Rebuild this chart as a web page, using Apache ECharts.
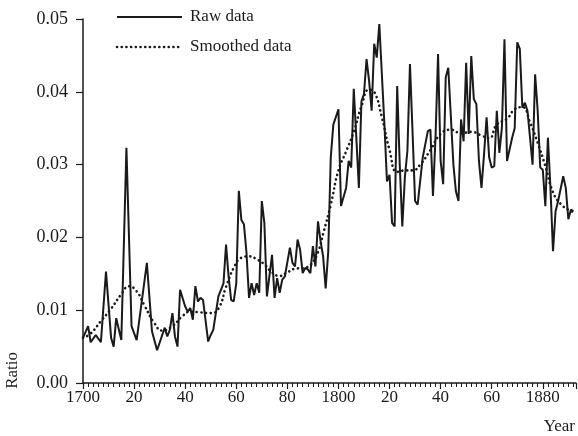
<!DOCTYPE html>
<html>
<head>
<meta charset="utf-8">
<script src="https://cdn.jsdelivr.net/npm/echarts@6/dist/echarts.min.js"></script>
<style>
html, body { margin: 0; padding: 0; background: #fff; }
#chart { width: 578px; height: 436px; }
</style>
</head>
<body>
<div id="chart"></div>
<script>
var rawYears = [1700, 1702, 1703, 1705, 1707, 1709, 1711, 1712, 1713, 1715, 1717, 1719, 1721, 1725, 1727, 1729,
    1732, 1733, 1734, 1735, 1736, 1737, 1738, 1740, 1741, 1742, 1743, 1744, 1745, 1746, 1747, 1749, 1750, 1751,
    1753, 1755, 1756, 1757, 1758, 1759, 1760, 1761, 1762, 1763, 1764, 1765, 1766, 1767, 1768, 1769, 1770, 1771,
    1772, 1774, 1775, 1776, 1777, 1778, 1779, 1781, 1782, 1783, 1784, 1785, 1786, 1787, 1788, 1789, 1790, 1791,
    1792, 1793, 1794, 1795, 1796, 1797, 1798, 1800, 1801, 1803, 1804, 1805, 1806, 1807, 1808, 1809, 1810, 1811,
    1812, 1813, 1814, 1815, 1816, 1818, 1819, 1820, 1821, 1822, 1823, 1824, 1825, 1826, 1827, 1828, 1829, 1830,
    1831, 1833, 1835, 1836, 1837, 1838, 1839, 1840, 1841, 1842, 1843, 1845, 1846, 1847, 1848, 1849, 1850, 1851,
    1852, 1853, 1854, 1855, 1856, 1857, 1858, 1859, 1860, 1861, 1862, 1863, 1864, 1865, 1866, 1868, 1869, 1870,
    1871, 1872, 1873, 1874, 1875, 1876, 1877, 1878, 1879, 1880, 1881, 1882, 1883, 1884, 1885, 1886, 1888, 1889,
    1890, 1891, 1892];
var rawValues = [0.0062, 0.0078, 0.0056, 0.0066, 0.0056, 0.0153, 0.0062, 0.0050, 0.0089, 0.0059, 0.0323, 0.0078,
    0.0059, 0.0165, 0.0071, 0.0045,
    0.0076, 0.0064, 0.0073, 0.0096, 0.0064, 0.0050, 0.0128, 0.0105, 0.0098, 0.0103, 0.0087, 0.0133, 0.0112, 0.0117,
    0.0114, 0.0057, 0.0066, 0.0073,
    0.0119, 0.0137, 0.0190, 0.0146, 0.0114, 0.0112, 0.0137, 0.0264, 0.0224, 0.0218, 0.0179, 0.0117, 0.0137, 0.0121,
    0.0137, 0.0124, 0.0250, 0.0220,
    0.0119, 0.0176, 0.0117, 0.0144, 0.0124, 0.0142, 0.0146, 0.0186, 0.0165, 0.0160, 0.0197, 0.0183, 0.0151, 0.0158,
    0.0156, 0.0151, 0.0188, 0.0160,
    0.0222, 0.0195, 0.0174, 0.0130, 0.0180, 0.0310, 0.0355, 0.0376, 0.0243, 0.0268, 0.0305, 0.0296, 0.0404, 0.0337,
    0.0268, 0.0387, 0.0397, 0.0445,
    0.0415, 0.0374, 0.0466, 0.0447, 0.0493, 0.0355, 0.0277, 0.0286, 0.0220, 0.0215, 0.0408, 0.0300, 0.0215, 0.0282,
    0.0319, 0.0438, 0.0346, 0.0250,
    0.0245, 0.0310, 0.0346, 0.0348, 0.0257, 0.0337, 0.0452, 0.0305, 0.0273, 0.0420, 0.0433, 0.0300, 0.0263, 0.0250,
    0.0362, 0.0332, 0.0440, 0.0342,
    0.0449, 0.0390, 0.0383, 0.0305, 0.0268, 0.0314, 0.0365, 0.0310, 0.0296, 0.0298, 0.0374, 0.0316, 0.0351, 0.0472,
    0.0305, 0.0337, 0.0350, 0.0468,
    0.0459, 0.0378, 0.0385, 0.0374, 0.0337, 0.0300, 0.0424, 0.0374, 0.0296, 0.0293, 0.0243, 0.0337, 0.0268, 0.0181,
    0.0236, 0.0250, 0.0284, 0.0268,
    0.0225, 0.0238, 0.0236];

var smoothYears = [1700, 1703, 1707, 1711, 1715, 1718, 1721, 1724, 1728, 1731, 1735, 1739, 1742, 1746, 1750, 1753,
    1756, 1759, 1762, 1765, 1768, 1771, 1774, 1777, 1780, 1783, 1786, 1789, 1792, 1794, 1797, 1800, 1803, 1806,
    1809, 1812, 1814, 1817, 1820, 1823, 1826, 1829, 1832, 1836, 1840, 1844, 1848, 1852, 1856, 1859, 1862, 1866,
    1869, 1872, 1875, 1878, 1881, 1884, 1887, 1890, 1892];
var smoothValues = [0.0062, 0.0068, 0.0085, 0.0102, 0.0122, 0.0133, 0.0126, 0.0107, 0.0082, 0.0072, 0.0078, 0.0092,
    0.0098, 0.0097, 0.0096, 0.0102,
    0.0132, 0.0158, 0.0172, 0.0174, 0.0170, 0.0163, 0.0152, 0.0147, 0.0152, 0.0157, 0.0158, 0.0162, 0.0180, 0.0205,
    0.0245, 0.0292, 0.0318, 0.0345,
    0.0380, 0.0403, 0.0400, 0.0365, 0.0320, 0.0290, 0.0292, 0.0292, 0.0300, 0.0320, 0.0342, 0.0348, 0.0343, 0.0345,
    0.0340, 0.0336, 0.0355, 0.0363,
    0.0376, 0.0379, 0.0358, 0.0330, 0.0298, 0.0262, 0.0246, 0.0238, 0.0235];

var xTickLabels = ['1700', '20', '40', '60', '80', '1800', '20', '40', '60', '1880'];
var seriesNames = ['Raw data', 'Smoothed data'];

function pairs(xs, ys) {
    return xs.map(function (x, i) { return [x, ys[i]]; });
}

var font = 'Liberation Serif';
var ink = '#1a1a1a';
var dots = [0.1, 4.6];

var myChart = echarts.init(document.getElementById('chart'), null, { renderer: 'canvas' });

// legend drawn by hand so the samples are plain solid / dotted strokes
function legendRow(y, name, dash) {
    return [
        {
            type: 'line',
            shape: { x1: 117, y1: y, x2: 182, y2: y },
            style: { stroke: ink, lineWidth: dash ? 2.6 : 2, lineDash: dash || null, lineCap: dash ? 'round' : 'butt' }
        },
        {
            type: 'text', x: 190, y: y,
            style: { text: name, font: '17px "Liberation Serif"', fill: ink, textVerticalAlign: 'middle' }
        }
    ];
}

var option = {
    backgroundColor: '#fff',
    animation: false,
    textStyle: { fontFamily: font, color: ink },
    grid: { left: 83, right: 2, top: 19, bottom: 53 },
    xAxis: {
        type: 'value',
        min: 1700,
        max: 1893,
        interval: 20,
        axisLine: { lineStyle: { color: ink, width: 1.5 } },
        axisTick: { length: 6, lineStyle: { color: ink, width: 1.2 } },
        minorTick: { show: true, splitNumber: 10, length: 4, lineStyle: { color: ink, width: 1 } },
        splitLine: { show: false },
        axisLabel: {
            fontFamily: font, fontSize: 17, color: ink, margin: 6,
            showMaxLabel: false,
            formatter: function (v) {
                var i = Math.round((v - 1700) / 20);
                return xTickLabels[i] || '';
            }
        }
    },
    yAxis: {
        type: 'value',
        min: 0,
        max: 0.05,
        interval: 0.01,
        axisLine: { show: true, lineStyle: { color: ink, width: 1.5 } },
        axisTick: { show: true, length: 7, lineStyle: { color: ink, width: 1.2 } },
        splitLine: { show: false },
        axisLabel: {
            fontFamily: font, fontSize: 18, color: ink, margin: 15,
            formatter: function (v) { return v.toFixed(2); }
        }
    },
    graphic: legendRow(17, seriesNames[0], null)
        .concat(legendRow(47, seriesNames[1], dots))
        .concat([
            {
                type: 'text', left: 4, top: 352, rotation: Math.PI / 2,
                style: { text: 'Ratio', font: '17px "Liberation Serif"', fill: ink }
            },
            {
                type: 'text', right: 3, top: 418,
                style: { text: 'Year', font: '17px "Liberation Serif"', fill: ink }
            }
        ]),
    series: [
        {
            name: seriesNames[0],
            type: 'line',
            data: pairs(rawYears, rawValues),
            symbol: 'none',
            lineStyle: { color: ink, width: 2 },
            z: 2
        },
        {
            name: seriesNames[1],
            type: 'line',
            data: pairs(smoothYears, smoothValues),
            smooth: 0.5,
            symbol: 'none',
            lineStyle: { color: ink, width: 2.6, type: dots, cap: 'round' },
            z: 3
        }
    ]
};
myChart.setOption(option);
</script>
</body>
</html>
